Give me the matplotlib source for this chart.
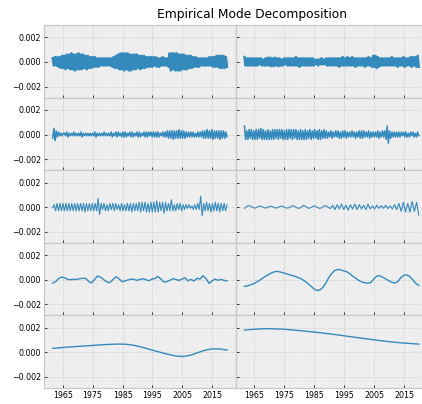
import numpy as np
import matplotlib
matplotlib.use("Agg")
import matplotlib.pyplot as plt

# values, in units of 1e-4
UNIT = 1e-4
t_start, t_end = 1961.7, 2019.9

imf1_left = [
    3, -3, 4, -3, 4, -4, 4, -5, 5, -5,
    5, -6, 6, -5, 6, -6, 7, -6, 6, -7,
    6, -6, 7, -6, 6, -6, 6, -5, 5, -6,
    5, -5, 4, -5, 4, -4, 4, -4, 3, -4,
    3, -3, 3, -3, 3, -3, 3, -3, 3, -3,
    3, -4, 4, -5, 5, -5, 6, -6, 7, -6,
    7, -7, 7, -6, 7, -7, 6, -7, 6, -6,
    6, -6, 6, -5, 5, -6, 5, -5, 5, -5,
    4, -4, 4, -4, 4, -4, 4, -3, 4, -4,
    3, -4, 3, -3, 4, -3, 3, -3, 3, -4,
    7, -7, 7, -6, 7, -7, 7, -7, 6, -7,
    6, -6, 6, -6, 5, -6, 5, -5, 5, -5,
    4, -4, 4, -4, 3, -4, 3, -3, 3, -3,
    3, -3, 3, -3, 4, -3, 4, -4, 4, -4,
    5, -4, 5, -5, 5, -5, 5, -5, 4, -4,
]
imf1_right = [
    4, -3, 3, -3, 3, -3, 3, -3, 3, -3,
    3, -3, 3, -2, 3, -3, 2, -3, 3, -3,
    3.5, -3, 3.5, -3.5, 3, -3.5, 3.5, -3, 3, -3.5,
    3, -3, 2, -3, 3, -2, 3, -3, 3, -3,
    3, -3, 3, -3, 4, -3, 3, -4, 3, -3,
    3, -3, 3, -3, 3, -3, 3, -3, 3, -3,
    2, -2, 2, -3, 2, -2, 3, -2, 2, -2,
    3, -3, 3, -3, 3, -3, 3, -3, 3, -3,
    3, -4, 3, -3, 4, -3, 3, -3, 4, -3,
    3, -3, 4, -3, 3, -4, 3, -3, 3, -3,
    3, -3, 3, -4, 3, -3, 4, -3, 3, -4,
    5, -4, 5, -5, 4, -4, 3, -3, 3, -3,
    3, -3, 3, -3, 3, -3, 4, -3, 3, -3,
    3, -4, 3, -3, 3, -3, 4, -4, 3, -3,
    3, -3, 4, -4, 4, -3, 4, -4, 5, -4,
]
imf2_left = [
    -3, 5, -5, 3, -2, 2, -1, 1, -1, 1,
    1, -1, 2, -2, 1, -1, 1, -1, 2, -1,
    1, -1, 1, -1, 2, -2, 1, -1, 1, -1,
    1, -1, 1, -1, 1, -1, 2, -2, 1, -1,
    1, -1, 1, -1, 2, -1, 1, -1, 1, -1,
    2, -2, 1, -1, 2, -2, 2, -1, 1, -2,
    2, -2, 2, -2, 1, -1, 2, -2, 2, -2,
    1, -1, 2, -2, 2, -2, 1, -1, 2, -2,
    2, -2, 2, -1, 2, -2, 2, -2, 2, -2,
    2, -2, 1, -1, 2, -2, 2, -2, 3, -3,
    3, -3, 3, -4, 3, -3, 3, -3, 4, -3,
    3, -3, 3, -3, 2, -2, 2, -2, 2, -2,
    2, -2, 1, -2, 2, -2, 2, -2, 3, -3,
    3, -3, 4, -3, 3, -3, 4, -4, 3, -3,
    3, -3, 3, -4, 3, -3, 3, -3, 2, -2,
]
imf2_right = [
    7, -4, 3, -4, 4, -3, 4, -4, 3, -4,
    4, -4, 4, -3, 5, -4, 4, -4, 3, -4,
    4, -4, 3, -4, 4, -4, 4, -3, 4, -4,
    4, -3, 4, -4, 3, -4, 4, -4, 4, -3,
    4, -4, 4, -3, 4, -4, 3, -4, 4, -4,
    3, -4, 4, -4, 3, -3, 4, -4, 3, -3,
    4, -3, 3, -4, 4, -4, 3, -3, 4, -3,
    3, -3, 2, -2, 3, -3, 2, -2, 3, -2,
    3, -3, 2, -3, 3, -2, 3, -3, 2, -2,
    2, -2, 3, -2, 2, -3, 2, -2, 3, -3,
    3, -3, 3, -2, 2, -2, 3, -3, 2, -2,
    2, -2, 2, -2, 3, -3, 2, -2, 3, -2,
    3, -4, 7, -7, 3, -3, 2, -2, 2, -2,
    2, -2, 2, -2, 2, -1, 2, -2, 2, -2,
    1, -2, 2, -1, 2, -2, 1, -2, 2, -1,
]
imf3_left = [
    -0.5, 2, -3, 3, -3, 3, -3, 3, -3, 3,
    -3, 3, -3, 3, -3, 3, -3, 3, -3, 3,
    -3, 3, -4, 3, -3, 3, -3, 3, -3, 3,
    -3, 7, -6, 3, -2, 3, -3, 2, -3, 3,
    -2, 3, -3, 3, -2, 2, -3, 3, -3, 2,
    -3, 3, -3, 3, -4, 3, -3, 3, -3, 4,
    -4, 4, -3, 4, -4, 3, -4, 4, -4, 4,
    -4, 5, -4, 4, -3, 4, -5, 4, -3, 3,
    -3, 6, -3, 2, -3, 3, -2, 3, -3, 2,
    -2, 2, -1, 2, -1, 1, -2, 2, -2, 3,
    -2, 9, -7, 3, -3, 4, -3, 3, -4, 3,
    -3, 4, -3, 3, -4, 3, -3, 3, -3, 2,
]
imf3_right = [
    -1, 0.5, 1.3, 0.5, -0.5, -0.8, 0.2, 1, 0.4, -0.6,
    -0.7, 0.3, 0.8, 0, -0.7, -0.5, 0.5, 0.9, 0, -0.8,
    -0.6, 0.4, 1.2, 0.3, -0.8, -0.9, 0.4, 1.5, 0.2, -1,
    -0.5, 0.6, 1, -0.2, -1, -0.6, 0.8, 1.2, -0.3, -1.2,
    1.5, -2, 2, -1.5, 2.5, -2, 1.5, -2.5, 2, -1.5,
    2.5, -2, 2, -1.5, 1.5, -2, 2.5, -1.5, 1, -1.5,
    1.5, -1, 1.2, -1, 1.5, -1.2, 1, -1.5, 2, -2,
    3, -3.5, 4, -4, 3, -4, 4.5, -3.5, 4, -6.5,
]
imf4_left = [
    -2.7, -1.5, 1, 2.2, 1.5, 0.3, 0, 0.3, 0.2, 0.8,
    1.2, 1.0, -1.5, -2.6, 0.5, 3, 2, 0, -1.8, -2.4,
    0, 2.4, 1, -1.6, -1, -0.2, 0.5, 0.3, -0.5, 0.2,
    0.8, 0, -0.8, 0.5, 1, 2.7, 0.5, -1.9, -1.5, -0.5,
    0.8, 0.2, -0.6, 0.5, 1.5, -0.8, 0.3, -1, 1.2, 0.5,
    3.2, 1, -3, -1, 0.5, -0.5, 0.3, -0.5, -1,
]
imf4_right = [
    -5.4, -5, -4.2, -3.3, -2, -0.5, 1.2, 2.8, 4.2, 5.5,
    6.5, 6.8, 6.2, 5.6, 4.8, 4, 3.3, 2.6, 1.6, 0.6,
    -1, -3, -5, -7.2, -8.7, -8.5, -6.5, -3, 1.5, 5,
    7.5, 8.3, 8, 7.2, 6.5, 5, 3, 1.2, -0.5, -1.8,
    -2.5, -2.8, -2.3, 0.5, 3, 3.2, 2, 0.7, -0.8, -2,
    -2.7, -1.5, 1.5, 3.5, 4, 2.5, 0, -3, -4.6,
]
imf5_left = [
    3.2, 3.7, 4.2, 4.6, 5.0, 5.4, 5.8, 6.2, 6.5, 6.7,
    6.6, 5.9, 4.6, 3.0, 1.3, -0.3, -1.8, -3.1, -3.4, -2.3,
    -0.2, 1.8, 2.8, 2.7, 1.9,
]
imf5_right = [
    18.1, 18.6, 19.0, 19.2, 19.1, 18.9, 18.5, 18.0, 17.4, 16.8,
    16.2, 15.5, 14.8, 14.0, 13.2, 12.4, 11.6, 10.8, 10.0, 9.3,
    8.6, 8.0, 7.5, 7.1, 6.7,
]

year_ticks = [1965, 1975, 1985, 1995, 2005, 2015]
y_ticks = [-0.002, 0.0, 0.002]

rows = [
    (imf1_left, imf1_right, 1.7),
    (imf2_left, imf2_right, 1.1),
    (imf3_left, imf3_right, 0.8),
    (imf4_left, imf4_right, 1.0),
    (imf5_left, imf5_right, 1.0),
]

plt.style.use("bmh")
fig, axes = plt.subplots(5, 2, figsize=(4.22, 4.04), dpi=100,
                         sharex=True, sharey=True,
                         gridspec_kw=dict(hspace=0, wspace=0))
fig.subplots_adjust(left=0.1043, right=1.013, top=0.9381, bottom=0.0396)

for r, (left, right, lw) in enumerate(rows):
    for c, vals in enumerate((left, right)):
        ax = axes[r, c]
        vals = np.array(vals) * UNIT
        t = np.linspace(t_start, t_end, len(vals))
        ax.plot(t, vals, color="#348ABD", lw=lw)
        ax.tick_params(labelsize=5.7, length=2.5, width=0.7, pad=2,
                       color="#333333")
        ax.grid(True, color="#c4c4c4", linestyle=(0, (1.5, 1.5)), linewidth=0.5)
        for s in ax.spines.values():
            s.set_color("#c8c8c8")
            s.set_linewidth(0.9)

axes[0, 0].set_xlim(1958.8, 2022.8)
axes[0, 0].set_ylim(-0.0029, 0.003)
axes[0, 0].set_xticks(year_ticks)
axes[0, 0].set_yticks(y_ticks)

fig.text(0.5964, 0.965, "Empirical Mode Decomposition",
         ha="center", va="center", fontsize=8.8)

fig.savefig("out.png", dpi=100)
